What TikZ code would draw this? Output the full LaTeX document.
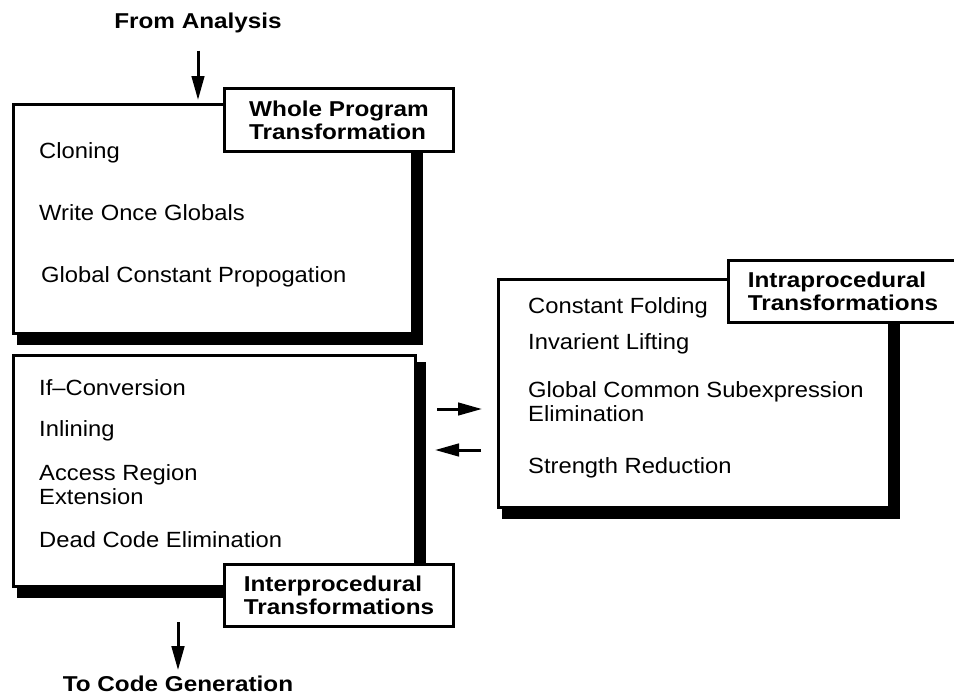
\documentclass[tikz,border=0pt]{standalone}
\usepackage{fontspec}
\setmainfont[FakeStretch=1.08]{Liberation Sans}
\newfontfamily\headfont[FakeStretch=1.13]{Liberation Sans}
\usetikzlibrary{arrows.meta,backgrounds}

\tikzset{
  panel/.style={draw=black, line width=3pt, fill=white, inner sep=0pt, anchor=north west},
  tag/.style={draw=black, line width=3pt, fill=white, inner sep=0pt, anchor=north west,
    align=left, font=\headfont\bfseries\fontsize{21.5}{23}\selectfont},
  item/.style={anchor=base west, inner sep=0pt, font=\fontsize{22}{24}\selectfont},
  head/.style={anchor=base, inner sep=0pt, font=\headfont\bfseries\fontsize{21.5}{23}\selectfont},
  flow/.style={line width=3pt, -{Triangle[length=24pt,width=12.5pt]}},
  shade/.style={fill=black}
}

\begin{document}
\begin{tikzpicture}[x=1pt,y=-1pt]
\useasboundingbox (0,0) rectangle (954,696);

% the three transformation panels
\node[panel, minimum width=399pt, minimum height=229pt] (whole) at (12,103) {};
\node[panel, minimum width=402pt, minimum height=231pt] (inter) at (12,354) {};
\node[panel, minimum width=391pt, minimum height=228pt] (intra) at (497,278) {};

% heavy drop shadows behind the panels
\begin{scope}[on background layer]
  \fill[shade] ([shift={(5,8)}]whole.north west) rectangle ([shift={(9,10)}]whole.south east);
  \fill[shade] ([shift={(5,8)}]inter.north west) rectangle ([shift={(9,10)}]inter.south east);
  \fill[shade] ([shift={(5,8)}]intra.north west) rectangle ([shift={(9,10)}]intra.south east);
\end{scope}

% panel titles
\node[tag, minimum width=229pt, minimum height=63pt] (wholetag) at (223,87) {Whole Program\\Transformation};
\node[tag, minimum width=229pt, minimum height=62pt] (intertag) at (223,563) {Interprocedural\\Transformations};
\node[tag, minimum width=229pt, minimum height=62pt] (intratag) at (727,259) {Intraprocedural\\Transformations};

% whole program items
\node[item] (cloning) at (39,158) {Cloning};
\node[item] (wog) at (39,220) {Write Once Globals};
\node[item] (gcp) at (41,282) {Global Constant Propogation};

% interprocedural items
\node[item] (ifc) at (39,395) {If–Conversion};
\node[item] (inl) at (39,436) {Inlining};
\node[item] (are) at (39,480) {\begin{tabular}[t]{@{}l@{}}Access Region\\Extension\end{tabular}};
\node[item] (dce) at (39,547) {Dead Code Elimination};

% intraprocedural items
\node[item] (cf) at (528,313) {Constant Folding};
\node[item] (il) at (528,349) {Invarient Lifting};
\node[item] (gcse) at (528,397) {\begin{tabular}[t]{@{}l@{}}Global Common Subexpression\\Elimination\end{tabular}};
\node[item] (sr) at (528,473) {Strength Reduction};

% entry and exit
\node[head] (fa) at (198,28) {From Analysis};
\node[head] (tcg) at (178,691) {To Code Generation};

\draw[flow, shorten <=18pt, shorten >=3pt] (fa.south) -- (fa.south |- whole.north);
\draw[flow, shorten <=34pt, shorten >=5pt] (tcg.north |- inter.south) -- (tcg.north);

% exchange between inter- and intraprocedural phases
\draw[flow, shorten <=20pt, shorten >=15pt] ([yshift=62pt]inter.east) -- ([yshift=62pt]inter.east -| intra.west);
\draw[flow, shorten <=16pt, shorten >=18pt] ([yshift=21pt]inter.east -| intra.west) -- ([yshift=21pt]inter.east);
\end{tikzpicture}
\end{document}
